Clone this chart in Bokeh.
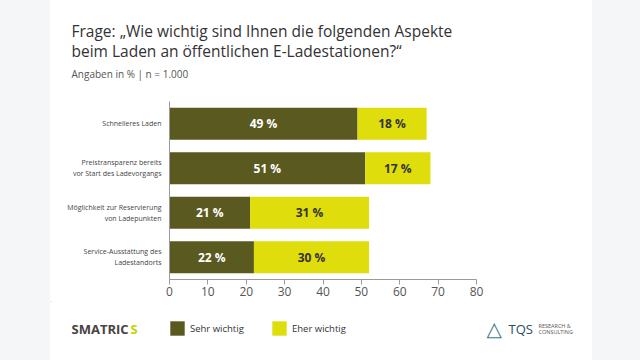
from bokeh.plotting import figure
from bokeh.models import (FactorRange, Range1d, FixedTicker, Label, Legend, LegendItem,
                          ColumnDataSource, Div)
from bokeh.layouts import row, column
from bokeh.core.properties import value
from bokeh.embed import file_html
from bokeh.resources import INLINE

categories = [
    "Schnelleres Laden",
    "Preistransparenz bereits\nvor Start des Ladevorgangs",
    "Möglichkeit zur Reservierung\nvon Ladepunkten",
    "Service-Ausstattung des\nLadestandorts",
]
sehr_wichtig = [49, 51, 21, 22]
eher_wichtig = [18, 17, 31, 30]
x_ticks = [0, 10, 20, 30, 40, 50, 60, 70, 80]
series_names = ["Sehr wichtig", "Eher wichtig"]

DARK = "#5a5920"
YELLOW = "#dfdd0b"
BG = "#f5f6f8"
FONT = "Open Sans"
W = 542


def blank(h):
    f = figure(width=W, height=h, output_backend="svg", toolbar_location=None,
               x_range=Range1d(0, W), y_range=Range1d(h, 0),
               x_axis_location=None, y_axis_location=None,
               min_border=0, min_border_left=0, min_border_right=0,
               min_border_top=0, min_border_bottom=0)
    f.outline_line_color = None
    f.border_fill_color = "white"
    f.background_fill_color = "white"
    f.xgrid.visible = False
    f.ygrid.visible = False
    if "frame_align" in f.properties():
        f.frame_align = False
    return f


# ---------- header ----------
header = blank(101)
header.add_layout(Label(x=21, y=30, text="Frage: „Wie wichtig sind Ihnen die folgenden Aspekte",
                        text_font=FONT, text_font_size="15.5px", text_color="#333333",
                        text_baseline="middle"))
header.add_layout(Label(x=21, y=50, text="beim Laden an öffentlichen E-Ladestationen?“",
                        text_font=FONT, text_font_size="15.5px", text_color="#333333",
                        text_baseline="middle"))
header.add_layout(Label(x=21, y=73, text="Angaben in % | n = 1.000",
                        text_font=FONT, text_font_size="10px", text_color="#555555",
                        text_baseline="middle"))

# ---------- main chart ----------
total = [a + b for a, b in zip(sehr_wichtig, eher_wichtig)]
src = ColumnDataSource(dict(
    cat=categories,
    sehr=sehr_wichtig,
    eher=eher_wichtig,
    zero=[0] * len(categories),
    total=total,
    sehr_mid=[a / 2 for a in sehr_wichtig],
    eher_mid=[a + b / 2 for a, b in zip(sehr_wichtig, eher_wichtig)],
    sehr_lbl=[f"{a} %" for a in sehr_wichtig],
    eher_lbl=[f"{b} %" for b in eher_wichtig],
))

p = figure(width=W, height=200, output_backend="svg", toolbar_location=None,
           y_range=FactorRange(factors=list(reversed(categories))),
           x_range=Range1d(0, 80),
           min_border_left=119, min_border_right=116, min_border_top=0, min_border_bottom=22)
p.border_fill_color = "white"
p.background_fill_color = "white"
p.outline_line_color = None
p.xgrid.visible = False
p.ygrid.visible = False
if "frame_align" in p.properties():
    p.frame_align = False

p.hbar(y="cat", left="zero", right="sehr", height=0.72, source=src,
       fill_color=DARK, line_color=None)
p.hbar(y="cat", left="sehr", right="total", height=0.72, source=src,
       fill_color=YELLOW, line_color=None)

p.text(x="sehr_mid", y="cat", text="sehr_lbl", source=src, text_color="white",
       text_font=value(FONT), text_font_style="bold", text_font_size="12px",
       text_align="center", text_baseline="middle")
p.text(x="eher_mid", y="cat", text="eher_lbl", source=src, text_color="#333333",
       text_font=value(FONT), text_font_style="bold", text_font_size="12px",
       text_align="center", text_baseline="middle")

p.xaxis.ticker = FixedTicker(ticks=x_ticks)
p.xaxis.axis_line_color = "#9a9a9a"
p.xaxis.major_tick_line_color = "#9a9a9a"
p.xaxis.major_tick_out = 5
p.xaxis.major_tick_in = 0
p.xaxis.minor_tick_line_color = None
p.xaxis.major_label_text_font = FONT
p.xaxis.major_label_text_font_size = "12px"
p.xaxis.major_label_text_color = "#555555"
p.xaxis.major_label_standoff = 2

p.yaxis.axis_line_color = "#9a9a9a"
p.yaxis.major_tick_line_color = None
p.yaxis.minor_tick_line_color = None
p.yaxis.major_label_text_font = FONT
p.yaxis.major_label_text_font_size = "7px"
p.yaxis.major_label_text_color = "#444444"
p.yaxis.major_label_standoff = 2

# ---------- footer ----------
footer = blank(59)
# legend swatch renderers (kept outside the visible range)
d1 = footer.hbar(y=[-100], left=[0], right=[1], height=1, fill_color=DARK, line_color=None)
d2 = footer.hbar(y=[-100], left=[0], right=[1], height=1, fill_color=YELLOW, line_color=None)
for rend, name, lx in [(d1, series_names[0], 118), (d2, series_names[1], 220)]:
    footer.add_layout(Legend(items=[LegendItem(label=name, renderers=[rend])],
                             location=(lx, 23), orientation="horizontal",
                             glyph_width=18, glyph_height=18, padding=0, margin=0,
                             label_standoff=4, label_text_font=FONT,
                             label_text_font_size="9.5px", label_text_color="#333333",
                             background_fill_alpha=0, border_line_color=None))

footer.add_layout(Label(x=21, y=27, text="SMATRIC", text_font=FONT, text_font_style="bold",
                        text_font_size="13px", text_color="#4a4242", text_baseline="middle"))
footer.add_layout(Label(x=80, y=27, text="S", text_font=FONT, text_font_style="bold",
                        text_font_size="13px", text_color="#c5d300", text_baseline="middle"))
footer.add_layout(Label(x=436, y=27, text="△", text_font="DejaVu Sans", text_font_style="bold",
                        text_font_size="20px", text_color="#3b7d8c", text_baseline="middle"))
footer.add_layout(Label(x=458, y=27, text="TQS", text_font=FONT, text_font_size="13px",
                        text_color="#2d4c63", text_baseline="middle"))
footer.add_layout(Label(x=488, y=24, text="RESEARCH &", text_font=FONT, text_font_size="5.5px",
                        text_color="#555555", text_baseline="middle"))
footer.add_layout(Label(x=488, y=30, text="CONSULTING", text_font=FONT, text_font_size="5.5px",
                        text_color="#555555", text_baseline="middle"))

left = Div(text="", width=50, height=360, margin=0, styles={"background-color": BG})
right = Div(text="", width=48, height=360, margin=0, styles={"background-color": BG})
layout = row(left, column(header, p, footer, spacing=0), right, spacing=0)

open("out.html", "w").write(file_html(layout, INLINE))
